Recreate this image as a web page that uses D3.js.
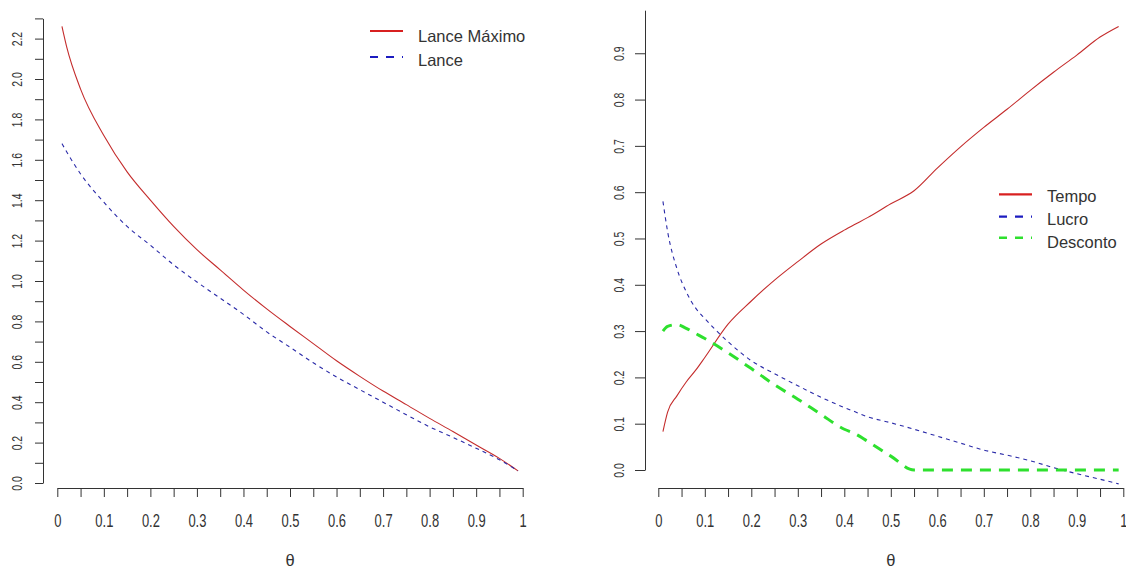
<!DOCTYPE html>
<html>
<head>
<meta charset="utf-8">
<script src="https://cdn.jsdelivr.net/npm/d3@7"></script>
<style>
  body { margin: 0; background: #fff; }
  svg { display: block; }
  text { font-family: "Liberation Sans", Arial, sans-serif; fill: #333; }
</style>
</head>
<body>
<svg id="chart" width="1126" height="572"></svg>
<script>
// θ grid and series for the left panel
const thetaLeft = [0.01, 0.02, 0.05, 0.10, 0.15, 0.20, 0.25, 0.30, 0.35, 0.40, 0.45, 0.50,
                   0.55, 0.60, 0.65, 0.70, 0.75, 0.80, 0.85, 0.90, 0.95, 0.99];
const lanceMaximo = [2.26, 2.16, 1.95, 1.72, 1.54, 1.40, 1.27, 1.155, 1.055, 0.955, 0.862, 0.775,
                     0.69, 0.605, 0.528, 0.455, 0.388, 0.32, 0.255, 0.188, 0.122, 0.06];
const lance = [1.68, 1.64, 1.53, 1.39, 1.27, 1.177, 1.08, 0.995, 0.915, 0.835, 0.748, 0.672,
               0.595, 0.525, 0.462, 0.40, 0.338, 0.278, 0.226, 0.172, 0.115, 0.06];

// θ grid and series for the right panel
const thetaRight = [0.01, 0.02, 0.04, 0.06, 0.08, 0.10, 0.15, 0.20, 0.25, 0.30, 0.35, 0.40, 0.42, 0.45,
                    0.50, 0.55, 0.60, 0.65, 0.70, 0.75, 0.80, 0.85, 0.90, 0.95, 0.99];
const tempo = [0.083, 0.125, 0.16, 0.19, 0.215, 0.243, 0.315, 0.365, 0.41, 0.45, 0.488, 0.518, 0.529, 0.545,
               0.575, 0.603, 0.652, 0.698, 0.74, 0.779, 0.82, 0.859, 0.896, 0.935, 0.958];
const lucro = [0.58, 0.515, 0.435, 0.385, 0.35, 0.327, 0.277, 0.236, 0.208, 0.182, 0.157, 0.135, 0.127, 0.115,
               0.102, 0.088, 0.073, 0.058, 0.043, 0.032, 0.02, 0.005, -0.008, -0.02, -0.03];
const desconto = [0.30, 0.31, 0.314, 0.306, 0.295, 0.284, 0.253, 0.219, 0.184, 0.153, 0.12, 0.088, 0.08, 0.062,
                  0.03, 0.0, 0.0, 0.0, 0.0, 0.0, 0.0, 0.0, 0.0, 0.0, 0.0];

// Tick values and labels
const xTicks = d3.range(0, 21).map(i => +(i * 0.05).toFixed(2));
const xTickLabels = ["0", "0.1", "0.2", "0.3", "0.4", "0.5", "0.6", "0.7", "0.8", "0.9", "1"];
const leftYTicks = d3.range(0, 24).map(i => +(i * 0.1).toFixed(1));
const leftYTickLabels = ["0.0", "0.2", "0.4", "0.6", "0.8", "1.0", "1.2", "1.4", "1.6", "1.8", "2.0", "2.2"];
const rightYTicks = d3.range(0, 10).map(i => +(i * 0.1).toFixed(1));
const rightYTickLabels = ["0.0", "0.1", "0.2", "0.3", "0.4", "0.5", "0.6", "0.7", "0.8", "0.9"];

const legendLeft = [
  { name: "Lance Máximo", color: "#d82020", dash: null, width: 2.2 },
  { name: "Lance", color: "#1c1cc0", dash: "8,8", width: 2.2 }
];
const legendRight = [
  { name: "Tempo", color: "#d82020", dash: null, width: 2.2 },
  { name: "Lucro", color: "#1c1cc0", dash: "8,8", width: 2.2 },
  { name: "Desconto", color: "#2ee02e", dash: "8,8", width: 2.6 }
];

const svg = d3.select("#chart");
const axisColor = "#333";

function xLabel(d) {
  const i = Math.round(d * 10);
  return Math.abs(d * 10 - i) < 1e-6 ? xTickLabels[i] : "";
}

function drawPanel(cfg) {
  const g = svg.append("g");
  const x = d3.scaleLinear().domain([0, 1]).range(cfg.xRange);
  const y = d3.scaleLinear().domain(cfg.yDomain).range(cfg.yRange);

  // x axis
  const xa = g.append("g").attr("transform", `translate(0,${cfg.xAxisY})`)
    .call(d3.axisBottom(x).tickValues(xTicks).tickSize(9).tickSizeOuter(0).tickFormat(xLabel));
  xa.select(".domain").attr("stroke", axisColor);
  xa.selectAll(".tick line").attr("stroke", axisColor);
  xa.selectAll(".tick text")
    .attr("y", 0).attr("dy", 0)
    .attr("transform", "translate(0,38.5) scale(0.72,1)")
    .style("font-size", "18px").attr("fill", "#333");

  // y axis
  const ya = g.append("g").attr("transform", `translate(${cfg.yAxisX},0)`)
    .call(d3.axisLeft(y).tickValues(cfg.yTicks).tickSize(cfg.yTickLen).tickSizeOuter(0)
      .tickFormat(cfg.yFormat));
  ya.select(".domain").attr("stroke", axisColor);
  ya.selectAll(".tick line").attr("stroke", axisColor);
  ya.selectAll(".tick text")
    .attr("x", 0).attr("y", 0).attr("dy", 0)
    .attr("text-anchor", "middle")
    .attr("transform", "translate(-21,0) rotate(-90) scale(0.72,1)")
    .style("font-size", "14.5px").attr("fill", "#333");

  // θ label
  g.append("text")
    .attr("x", (cfg.xRange[0] + cfg.xRange[1]) / 2)
    .attr("y", 566)
    .attr("text-anchor", "middle")
    .style("font-size", "16.5px")
    .text("θ");

  // series
  cfg.series.forEach(s => {
    const line = d3.line().x((d, i) => x(cfg.theta[i])).y(d => y(d)).curve(d3.curveMonotoneX);
    g.append("path")
      .datum(s.values)
      .attr("d", line)
      .attr("fill", "none")
      .attr("stroke", s.color)
      .attr("stroke-width", s.width)
      .attr("stroke-dasharray", s.dash);
  });

  // legend
  cfg.legend.forEach((l, i) => {
    const ly = cfg.legendLineY[i];
    g.append("line")
      .attr("x1", cfg.legendX).attr("x2", cfg.legendX + 33)
      .attr("y1", ly).attr("y2", ly)
      .attr("stroke", l.color).attr("stroke-width", l.width)
      .attr("stroke-dasharray", l.dash);
    g.append("text")
      .attr("x", cfg.legendX + 48)
      .attr("y", cfg.legendTextY[i])
      .style("font-size", "16.5px")
      .text(l.name);
  });
}

drawPanel({
  xRange: [57.3, 522.7],
  yDomain: [0, 2.3],
  yRange: [483, 18.4],
  xAxisY: 488,
  yAxisX: 43,
  yTickLen: 8,
  yTicks: leftYTicks,
  yFormat: d => {
    const i = Math.round(d * 10);
    return i % 2 === 0 ? leftYTickLabels[i / 2] : "";
  },
  theta: thetaLeft,
  series: [
    { values: lanceMaximo, color: "#c42c2c", width: 1.1, dash: null },
    { values: lance, color: "#2a2aa8", width: 1.1, dash: "4,4" }
  ],
  legend: legendLeft,
  legendX: 370,
  legendLineY: [31, 57],
  legendTextY: [42, 65.5]
});

drawPanel({
  xRange: [658.3, 1123.3],
  yDomain: [0, 0.993],
  yRange: [470, 10.2],
  xAxisY: 488,
  yAxisX: 645,
  yTickLen: 10,
  yTicks: rightYTicks,
  yFormat: d => rightYTickLabels[Math.round(d * 10)],
  theta: thetaRight,
  series: [
    { values: tempo, color: "#c42c2c", width: 1.1, dash: null },
    { values: lucro, color: "#2a2aa8", width: 1.1, dash: "4,4" },
    { values: desconto, color: "#2ee02e", width: 3, dash: "11,8" }
  ],
  legend: legendRight,
  legendX: 999,
  legendLineY: [194.3, 216.7, 237.7],
  legendTextY: [201.7, 225, 248.3]
});
</script>
</body>
</html>
